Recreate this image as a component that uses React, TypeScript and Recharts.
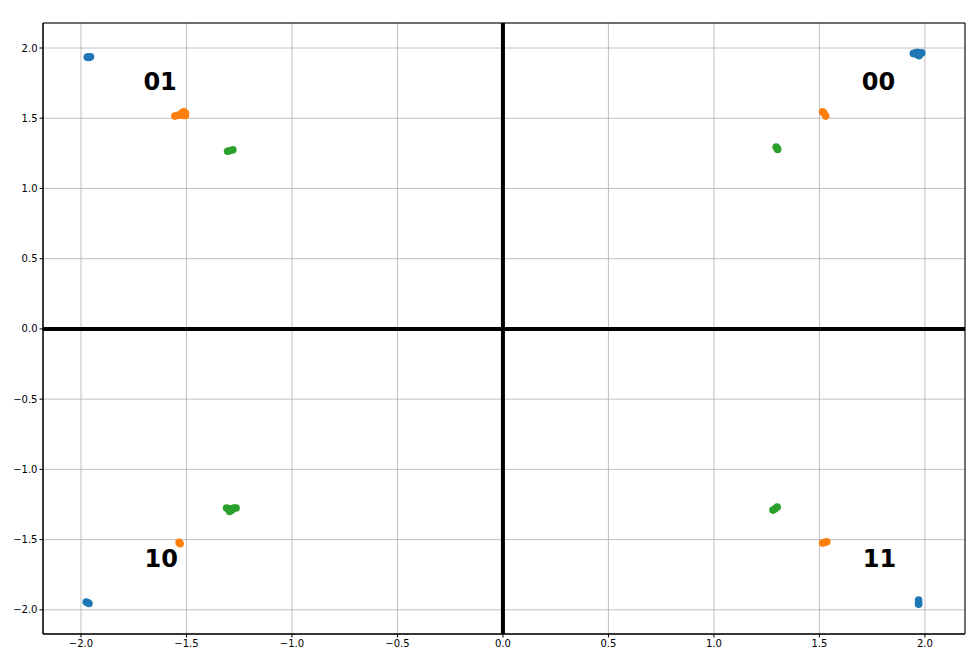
import {
  ScatterChart,
  Scatter,
  XAxis,
  YAxis,
  CartesianGrid,
  ReferenceLine,
  ReferenceArea,
  ReferenceDot,
} from "recharts";

const blueX = [-1.97, -1.962, -1.955, -1.965, 1.945, 1.955, 1.965, 1.975, 1.985, 1.972, 1.96, -1.975, -1.968, -1.962, 1.97, 1.97, 1.97];
const blueY = [1.935, 1.935, 1.937, 1.932, 1.96, 1.965, 1.97, 1.962, 1.965, 1.945, 1.955, -1.945, -1.95, -1.955, -1.93, -1.95, -1.96];

const orangeX = [-1.555, -1.54, -1.53, -1.52, -1.512, -1.505, -1.515, -1.505, 1.515, 1.522, 1.53, -1.535, -1.53, 1.515, 1.525, 1.535];
const orangeY = [1.515, 1.52, 1.525, 1.54, 1.545, 1.535, 1.52, 1.52, 1.545, 1.535, 1.515, -1.52, -1.53, -1.525, -1.52, -1.515];

const greenX = [-1.305, -1.295, -1.28, 1.295, 1.3, 1.302, -1.31, -1.3, -1.295, -1.285, -1.275, -1.265, -1.29, 1.28, 1.29, 1.3];
const greenY = [1.265, 1.268, 1.275, 1.295, 1.285, 1.278, -1.275, -1.285, -1.3, -1.29, -1.275, -1.275, -1.28, -1.29, -1.28, -1.268];

const labelText = ["01", "00", "10", "11"];
const labelX = [-1.625, 1.78, -1.62, 1.785];
const labelY = [1.76, 1.76, -1.64, -1.64];

const ticks = [-2, -1.5, -1, -0.5, 0, 0.5, 1, 1.5, 2];
const X_MIN = -2.18;
const X_MAX = 2.19;
const Y_MIN = -2.172;
const Y_MAX = 2.178;

const zip = (xs: number[], ys: number[]) => xs.map((x, i) => ({ x, y: ys[i] }));
const fmt = (v: number) => v.toFixed(1).replace("-", "\u2212");
const tickStyle = { fontSize: 10, fill: "#000", fontFamily: "DejaVu Sans" };

export default function App() {
  return (
    <div style={{ position: "absolute", left: 0, top: 0, background: "#fff" }}>
      <ScatterChart
        width={980}
        height={662}
        margin={{ top: 23, right: 15, bottom: 0, left: 0 }}
      >
        <CartesianGrid stroke="#b0b0b0" strokeWidth={0.8} />
        <XAxis
          type="number"
          dataKey="x"
          domain={[X_MIN, X_MAX]}
          ticks={ticks}
          tickFormatter={fmt}
          allowDataOverflow
          height={28}
          tick={tickStyle}
          tickSize={3.5}
          axisLine={{ stroke: "#000" }}
          tickLine={{ stroke: "#000" }}
        />
        <YAxis
          type="number"
          dataKey="y"
          domain={[Y_MIN, Y_MAX]}
          ticks={ticks}
          tickFormatter={fmt}
          allowDataOverflow
          width={43}
          tick={tickStyle}
          tickSize={3.5}
          axisLine={{ stroke: "#000" }}
          tickLine={{ stroke: "#000" }}
        />
        <ReferenceArea
          x1={X_MIN}
          x2={X_MAX}
          y1={Y_MIN}
          y2={Y_MAX}
          fill="none"
          fillOpacity={0}
          stroke="#000"
          strokeWidth={1}
        />
        <ReferenceLine x={0} stroke="#000" strokeWidth={4} />
        <ReferenceLine y={0} stroke="#000" strokeWidth={4} />
        <Scatter data={zip(blueX, blueY)} fill="#1f77b4" isAnimationActive={false} shape={(p: any) => <circle cx={p.cx} cy={p.cy} r={3.8} fill="#1f77b4" />} />
        <Scatter data={zip(orangeX, orangeY)} fill="#ff7f0e" isAnimationActive={false} shape={(p: any) => <circle cx={p.cx} cy={p.cy} r={3.8} fill="#ff7f0e" />} />
        <Scatter data={zip(greenX, greenY)} fill="#2ca02c" isAnimationActive={false} shape={(p: any) => <circle cx={p.cx} cy={p.cy} r={3.8} fill="#2ca02c" />} />
        {labelText.map((t, i) => (
          <ReferenceDot
            key={t}
            x={labelX[i]}
            y={labelY[i]}
            r={0}
            shape={(p: any) => (
              <text
                x={p.cx}
                y={p.cy}
                textAnchor="middle"
                dominantBaseline="central"
                fontFamily="DejaVu Sans"
                fontWeight="bold"
                fontSize={24}
                fill="#000"
              >
                {t}
              </text>
            )}
          />
        ))}
      </ScatterChart>
    </div>
  );
}
